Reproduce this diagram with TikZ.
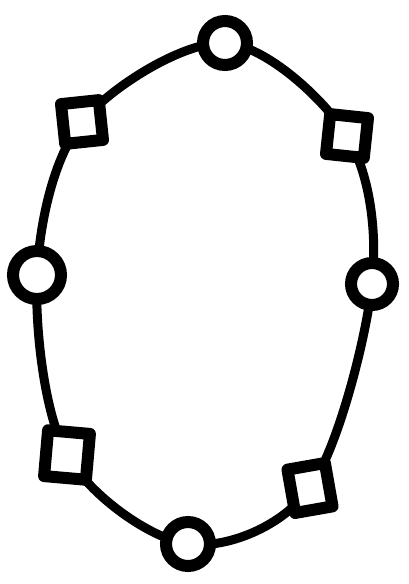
\documentclass[tikz,border=0pt]{standalone}
\usetikzlibrary{backgrounds}
\begin{document}
\begin{tikzpicture}[x=1pt,y=-1pt,
  ring/.style={line width=9pt,line cap=round,line join=round},
  ball/.style={circle,draw,fill=white,line width=12pt,minimum size=44pt,inner sep=0pt},
  box/.style={rectangle,draw,fill=white,line width=12pt,minimum width=38pt,minimum height=40pt,inner sep=0pt,line join=round}]
\useasboundingbox (0,0) rectangle (408,584);
\node[ball] (t) at (225,43) {};
\node[box,rotate=-6] (tr) at (347,136) {};
\node[ball,minimum size=42pt] (r) at (372,284) {};
\node[box,rotate=10,minimum height=44pt] (br) at (310,488) {};
\node[ball] (b) at (188,544) {};
\node[box,rotate=-5,minimum width=42pt,minimum height=46pt] (bl) at (67,455) {};
\node[ball,minimum size=48pt] (l) at (37,275) {};
\node[box,rotate=6] (tl) at (82,122) {};
\begin{pgfonlayer}{background}
\draw[ring] plot[smooth cycle,tension=0.55] coordinates {(t.center) (tr.center) (r.center) (br.center) (b.center) (bl.center) (l.center) (tl.center)};
\end{pgfonlayer}
\end{tikzpicture}
\end{document}
